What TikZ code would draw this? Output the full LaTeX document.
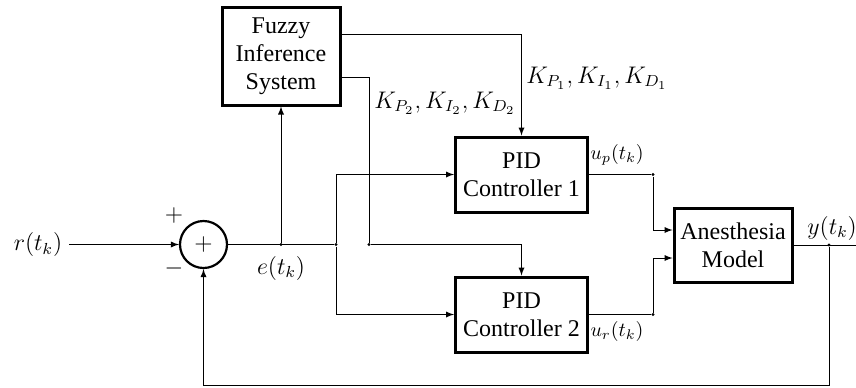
\documentclass[tikz,border=0pt]{standalone}
\usepackage{fontspec}
\setmainfont{Liberation Serif}
\usepackage{amsmath}
\usetikzlibrary{positioning, arrows}

\begin{document}
\begin{tikzpicture}[x=0.5pt, y=-0.5pt, >=latex, font=\large,
  block/.style={draw, line width=1.5pt, rectangle, align=center, inner sep=2pt},
  junc/.style={circle, fill, inner sep=0pt, minimum size=1.6pt}]
  \useasboundingbox (0,0) rectangle (856,387);

  % blocks
  \node[block, minimum width=59pt, minimum height=49pt] (fis) at (281,56) {Fuzzy\\Inference\\System};
  \node[block, minimum width=66pt, minimum height=37.5pt] (pid1) at (521.5,174.5) {PID\\Controller 1};
  \node[block, minimum width=66pt, minimum height=37.5pt] (pid2) at (521.5,314.5) {PID\\Controller 2};
  \node[block, minimum width=59pt, minimum height=37pt] (mdl) at (733,245) {Anesthesia\\Model};
  \node[draw, line width=1.1pt, circle, minimum size=23.5pt, inner sep=0pt] (sum) at (203.5,244.5) {$+$};
  \node (ref) at (38,244.5) {$r(t_k)$};

  % junctions
  \node[junc] (efis) at (281,244.5) {};
  \node[junc] (esplit) at (336,244.5) {};
  \node[junc] (ksplit) at (369,244.5) {};
  \node[junc] (up) at (653,174.5) {};
  \node[junc] (ur) at (653,314.5) {};
  \node[junc] (yfb) at (829,245) {};
  \coordinate (yend) at (856,245);

  % labels
  \node (plus) at (174,215) {$+$};
  \node (minus) at (174,268) {$-$};
  \node (elab) at (281,268) {$e(t_k)$};
  \node (k1) at (597,78) {$K_{P_1}, K_{I_1}, K_{D_1}$};
  \node (k2) at (445,103) {$K_{P_2}, K_{I_2}, K_{D_2}$};
  \node[font=\normalsize] (uplab) at (617,155) {$u_p(t_k)$};
  \node[font=\normalsize] (urlab) at (617,331) {$u_r(t_k)$};
  \node (ylab) at (832,228) {$y(t_k)$};

  % connectors
  \draw[->] (ref) -- (sum);
  \draw (sum) -- (esplit);
  \draw[->] (efis) -- (fis);
  \draw[->] (esplit) |- (pid1);
  \draw[->] (esplit) |- (pid2);
  \draw[->] ([yshift=11pt]fis.east) -| (pid1);
  \draw[->] ([yshift=-10.5pt]fis.east) -| (ksplit) -| (pid2);
  \draw (pid1) -- (up);
  \draw (pid2) -- (ur);
  \draw[->] (up) |- ([yshift=7.5pt]mdl.west);
  \draw[->] (ur) |- ([yshift=-6.5pt]mdl.west);
  \draw (mdl) -- (yend);
  \draw[->] (yfb) -- ++(0,140) -| (sum);
\end{tikzpicture}
\end{document}
